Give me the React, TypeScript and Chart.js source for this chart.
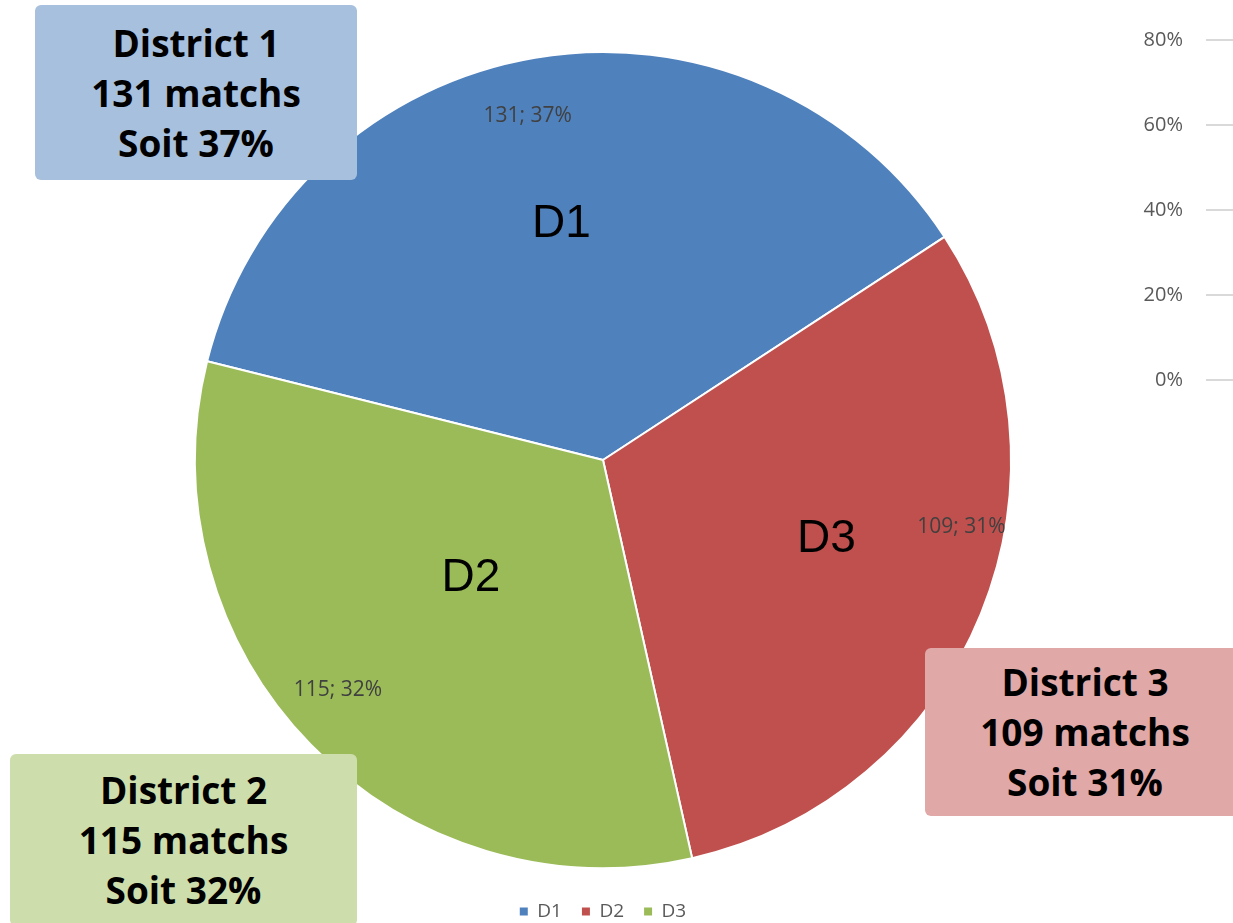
import React, { useEffect, useRef } from 'react';
import { Chart, registerables } from 'chart.js';

Chart.register(...registerables);

// ---- data ----
const categories = ['D1', 'D2', 'D3'];
const matchCounts = [131, 109, 115];
const sliceColors = ['#4F81BD', '#C0504D', '#9BBB59'];
const sliceTitles = ['D1', 'D3', 'D2'];
const axisTickValues = [0, 0.2, 0.4, 0.6, 0.8];
const districtNames = ['District 1', 'District 2', 'District 3'];
const districtMatches = [131, 115, 109];
const districtPercents = [37, 32, 31];

// ---- styling / placement constants ----
const valueLabelPlace = [
  { frac: 0.479, r: 0.863 },
  { frac: 0.396, r: 0.894 },
  { frac: 0.529, r: 0.86 },
];
const titlePlace = [
  { frac: 0.497, r: 0.587 },
  { frac: 0.477, r: 0.581 },
  { frac: 0.522, r: 0.434 },
];
const boxStyles = [
  { left: 35, top: 5, width: 322, height: 175, background: '#A7C0DE' },
  { left: 10, top: 754, width: 347, height: 172, background: '#CDDDAC' },
  { left: 925, top: 648, width: 320, height: 168, background: '#E0A8A6' },
];

const sliceLabelsPlugin = {
  id: 'sliceLabels',
  afterDatasetsDraw(chart: any) {
    const meta = chart.getDatasetMeta(0);
    const ctx = chart.ctx;
    const values = chart.data.datasets[0].data as number[];
    const total = values.reduce((a, b) => a + b, 0);
    meta.data.forEach((arc: any, i: number) => {
      const { x, y, startAngle, endAngle, outerRadius } = arc.getProps(
        ['x', 'y', 'startAngle', 'endAngle', 'outerRadius'],
        true
      );
      const pos = (frac: number, rf: number) => {
        const a = startAngle + (endAngle - startAngle) * frac;
        return [x + Math.cos(a) * outerRadius * rf, y + Math.sin(a) * outerRadius * rf];
      };
      ctx.save();
      ctx.textAlign = 'center';
      ctx.textBaseline = 'middle';
      const [vx, vy] = pos(valueLabelPlace[i].frac, valueLabelPlace[i].r);
      ctx.font = '21px "Open Sans"';
      ctx.fillStyle = '#404040';
      const pct = Math.round((values[i] / total) * 100);
      ctx.fillText(`${values[i]}; ${pct}%`, vx, vy);
      const [tx, ty] = pos(titlePlace[i].frac, titlePlace[i].r);
      ctx.font = '46px "Liberation Sans", Arial, sans-serif';
      ctx.fillStyle = '#000000';
      ctx.fillText(sliceTitles[i], tx, ty);
      ctx.restore();
    });
  },
};

export default function App() {
  const pieRef = useRef<HTMLCanvasElement>(null);
  const axisRef = useRef<HTMLCanvasElement>(null);

  useEffect(() => {
    const pie = new Chart(pieRef.current as HTMLCanvasElement, {
      type: 'pie',
      data: {
        labels: categories,
        datasets: [
          {
            data: matchCounts,
            backgroundColor: sliceColors,
            borderColor: '#FFFFFF',
            borderWidth: 2,
            hoverOffset: 0,
          },
        ],
      },
      options: {
        responsive: false,
        animation: false,
        rotation: -76,
        layout: { padding: { left: 194, right: 221, top: 38, bottom: 0 } },
        plugins: {
          tooltip: { enabled: false },
          legend: {
            position: 'bottom',
            labels: {
              boxWidth: 8,
              boxHeight: 8,
              padding: 20,
              color: '#595959',
              font: { family: '"Open Sans"', size: 19 },
              generateLabels: (chart: any) =>
                (Chart as any).overrides.pie.plugins.legend.labels
                  .generateLabels(chart)
                  .map((l: any) => ({ ...l, lineWidth: 0, strokeStyle: 'rgba(0,0,0,0)' })),
            },
          },
        },
      },
      plugins: [sliceLabelsPlugin],
    } as any);

    const axis = new Chart(axisRef.current as HTMLCanvasElement, {
      type: 'bar',
      data: { labels: [], datasets: [] },
      options: {
        responsive: false,
        animation: false,
        layout: { padding: { left: 0, right: 0, top: 40, bottom: 40 } },
        plugins: { legend: { display: false }, tooltip: { enabled: false } },
        scales: {
          x: { display: false },
          y: {
            min: 0,
            max: 0.8,
            afterBuildTicks: (scale: any) => {
              scale.ticks = axisTickValues.map((v) => ({ value: v }));
            },
            afterFit: (scale: any) => {
              scale.width = 106;
            },
            border: { display: false },
            grid: { color: '#D9D9D9', lineWidth: 2, drawTicks: false },
            ticks: {
              padding: 23,
              color: '#595959',
              font: { family: '"Open Sans"', size: 20 },
              callback: (v: any) => `${Math.round(Number(v) * 100)}%`,
            },
          },
        },
      },
    } as any);

    return () => {
      pie.destroy();
      axis.destroy();
    };
  }, []);

  return (
    <div
      style={{
        position: 'fixed',
        left: 0,
        top: 0,
        width: 1233,
        height: 923,
        overflow: 'hidden',
        background: '#FFFFFF',
      }}
    >
      <canvas
        ref={pieRef}
        width={1233}
        height={931}
        style={{ position: 'absolute', left: 0, top: 0, width: 1233, height: 931 }}
      />
      <canvas
        ref={axisRef}
        width={133}
        height={420}
        style={{ position: 'absolute', left: 1100, top: 0, width: 133, height: 420 }}
      />
      {boxStyles.map((b, i) => (
        <div
          key={i}
          style={{
            position: 'absolute',
            left: b.left,
            top: b.top,
            width: b.width,
            height: b.height,
            background: b.background,
            borderRadius: 6,
            display: 'flex',
            flexDirection: 'column',
            alignItems: 'center',
            justifyContent: 'center',
            fontFamily: '"Open Sans", sans-serif',
            fontWeight: 700,
            fontSize: 37,
            lineHeight: '50px',
            color: '#000000',
            textAlign: 'center',
          }}
        >
          <div>{districtNames[i]}</div>
          <div>{districtMatches[i]} matchs</div>
          <div>Soit {districtPercents[i]}%</div>
        </div>
      ))}
    </div>
  );
}
